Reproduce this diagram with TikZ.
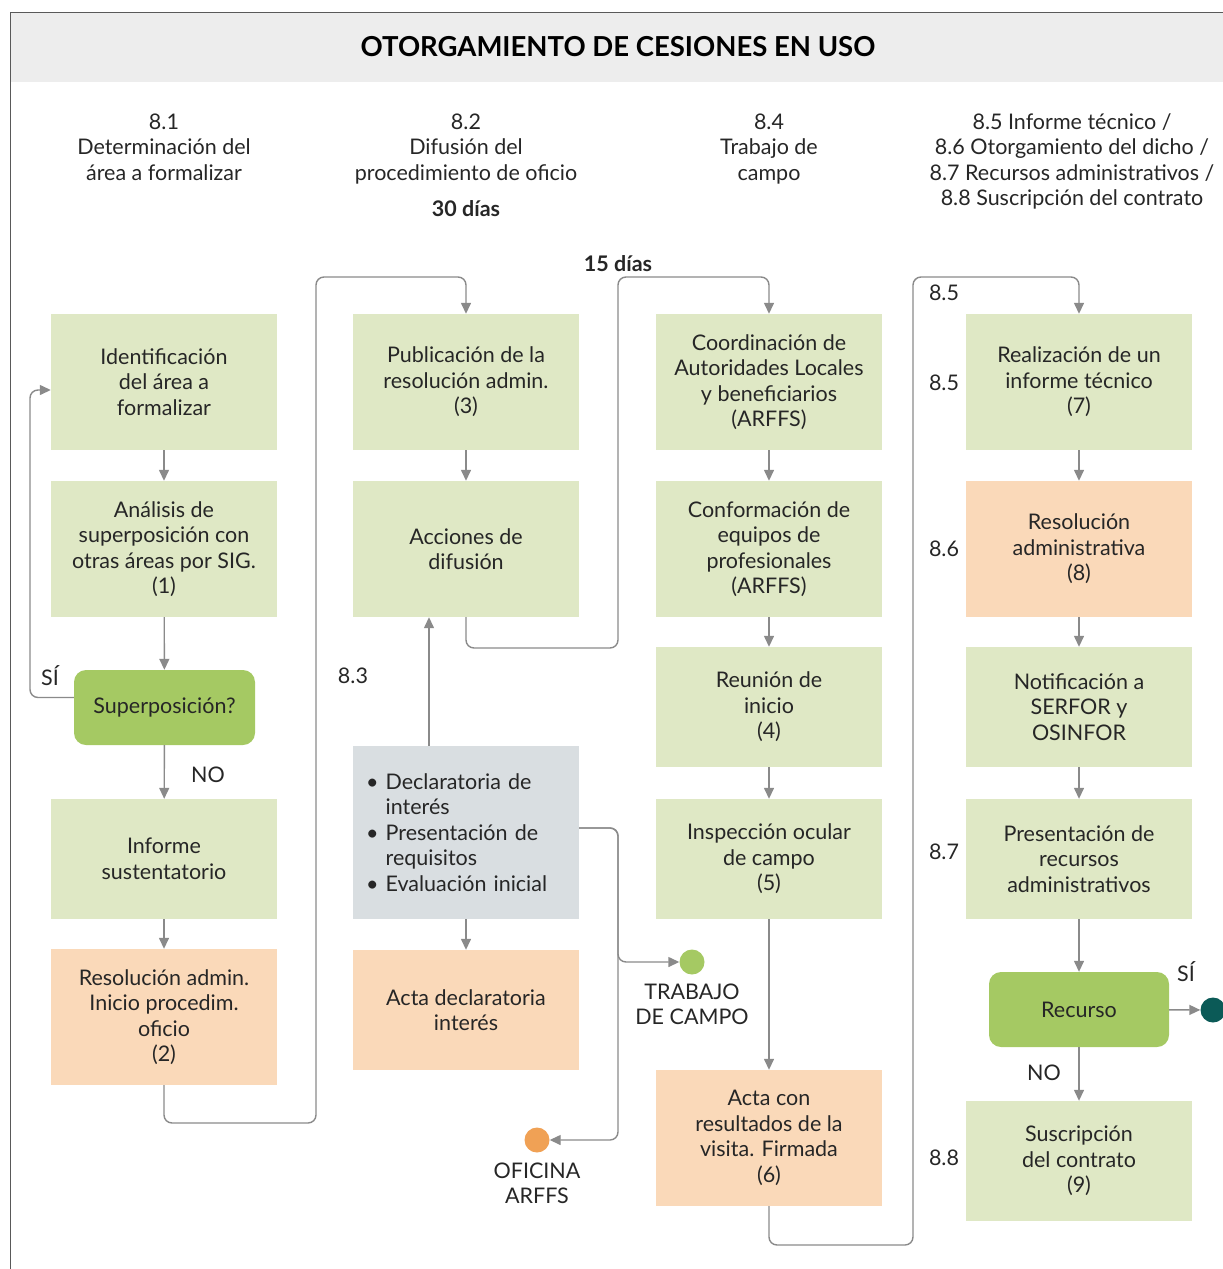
\documentclass[tikz,border=0pt]{standalone}
\usepackage{fontspec}
\setmainfont{Lato}
\usetikzlibrary{arrows.meta}
\definecolor{lgreen}{HTML}{DFE8C5}
\definecolor{lorange}{HTML}{FAD9B9}
\definecolor{dgreen}{HTML}{A5C963}
\definecolor{lgray}{HTML}{D9DEE1}
\definecolor{titlebg}{HTML}{EDEDED}
\definecolor{conncol}{HTML}{8A8A8A}
\definecolor{teal}{HTML}{0B5A57}
\definecolor{corange}{HTML}{F0A155}
\newcommand{\bodyfont}{\fontsize{21.5}{25.5}\selectfont}
\tikzset{
  box/.style={minimum width=226pt, inner sep=2pt, align=center, font=\bodyfont, text=black!85},
  gbox/.style={box, fill=lgreen},
  obox/.style={box, fill=lorange},
  decbox/.style={box, fill=dgreen, rounded corners=12pt, minimum width=181pt, minimum height=75pt},
  conn/.style={draw=conncol, line width=1.4pt, rounded corners=8pt},
  arr/.style={conn, -{Triangle[width=10pt,length=11pt]}},
  lbl/.style={font=\bodyfont, text=black!85, align=center},
  dot/.style={circle, minimum size=25pt, inner sep=0pt}
}
\begin{document}
\begin{tikzpicture}[x=1pt,y=-1pt]
\useasboundingbox (0,0) rectangle (1223,1269);
% frame and title
\fill[titlebg] (10,12) rectangle (1223,82);
\draw[black!65, line width=1pt] (10,1269) -- (10,12) -- (1223,12);
\node[font=\fontsize{27.5}{32}\selectfont\bfseries] (title) at (618,47) {OTORGAMIENTO DE CESIONES EN USO};
% column headers
\node[lbl, anchor=north] (h1) at (164,110) {8.1\\Determinación del\\área a formalizar};
\node[lbl, anchor=north] (h2) at (466,110) {8.2\\Difusión del\\procedimiento de oficio};
\node[lbl, font=\bodyfont\bfseries] (d30) at (466,209) {30 días};
\node[lbl, anchor=north] (h3) at (769,110) {8.4\\Trabajo de\\campo};
\node[lbl, anchor=north] (h4) at (1072,110) {8.5 Informe técnico /\\8.6 Otorgamiento del dicho /\\8.7 Recursos administrativos /\\8.8 Suscripción del contrato};
\node[lbl, font=\bodyfont\bfseries] (d15) at (618,264) {15 días};
% column 1
\node[gbox, minimum height=136pt] (A) at (164,382) {Identificación\\del área a\\formalizar};
\node[gbox, minimum height=136pt] (B) at (164,549) {Análisis de\\superposición con\\otras áreas por SIG.\\(1)};
\node[decbox] (dec1) at (164.5,707.5) {Superposición?};
\node[gbox, minimum height=120pt] (C) at (164,859) {Informe\\sustentatorio};
\node[obox, minimum height=136pt] (D) at (164,1017) {Resolución admin.\\Inicio procedim.\\oficio\\(2)};
% column 2
\node[gbox, minimum height=136pt] (P) at (466,382) {Publicación de la\\resolución admin.\\(3)};
\node[gbox, minimum height=136pt] (Acc) at (466,549) {Acciones de\\difusión};
\node[box, fill=lgray, minimum height=173pt, text width=200pt, align=left] (G) at (466,832.5) {\textbullet\ Declaratoria de\\\hphantom{\textbullet\ }interés\\\textbullet\ Presentación de\\\hphantom{\textbullet\ }requisitos\\\textbullet\ Evaluación inicial};
\node[obox, minimum height=120pt] (AD) at (466,1010) {Acta declaratoria\\interés};
% column 3
\node[gbox, minimum height=136pt] (Co) at (769,382) {Coordinación de\\Autoridades Locales\\y beneficiarios\\(ARFFS)};
\node[gbox, minimum height=136pt] (Cf) at (769,549) {Conformación de\\equipos de\\profesionales\\(ARFFS)};
\node[gbox, minimum height=120pt] (Re) at (769,707) {Reunión de\\inicio\\(4)};
\node[gbox, minimum height=120pt] (In) at (769,859) {Inspección ocular\\de campo\\(5)};
\node[obox, minimum height=136pt] (AR) at (769,1138) {Acta con\\resultados de la\\visita. Firmada\\(6)};
% column 4
\node[gbox, minimum height=136pt] (Rz) at (1079,382) {Realización de un\\informe técnico\\(7)};
\node[obox, minimum height=136pt] (Rs) at (1079,549) {Resolución\\administrativa\\(8)};
\node[gbox, minimum height=120pt] (No) at (1079,707) {Notificación a\\SERFOR y\\OSINFOR};
\node[gbox, minimum height=120pt] (Pr) at (1079,859) {Presentación de\\recursos\\administrativos};
\node[decbox, minimum width=180pt] (Rc) at (1079,1009.5) {Recurso};
\node[gbox, minimum height=120pt] (Su) at (1079,1161) {Suscripción\\del contrato\\(9)};
% dots
\node[dot, fill=dgreen] (TC) at (692,962) {};
\node[lbl, anchor=north] (TCl) at (692,980) {TRABAJO\\DE CAMPO};
\node[dot, fill=corange] (OF) at (537,1140) {};
\node[lbl, anchor=north] (OFl) at (537,1159) {OFICINA\\ARFFS};
\node[dot, fill=teal] (TE) at (1213,1010) {};
% side labels
\node[lbl] (l83) at (353,676) {8.3};
\node[lbl] (l85a) at (944,293) {8.5};
\node[lbl] (l85) at (944,383) {8.5};
\node[lbl] (l86) at (944,549) {8.6};
\node[lbl] (l87) at (944,852) {8.7};
\node[lbl] (l88) at (944,1158) {8.8};
\node[lbl] (si1) at (50,676) {SÍ};
\node[lbl] (no1) at (208,775) {NO};
\node[lbl] (si2) at (1186,972) {SÍ};
\node[lbl] (no2) at (1044,1073) {NO};
% connectors col1
\draw[arr] (A) -- (B);
\draw[arr] (B) -- (dec1);
\draw[arr] (dec1) -- (C);
\draw[arr] (C) -- (D);
\draw[arr] ([yshift=10pt]dec1.west) -- (30,697.5) -- (30,390) -- (A.west |- 0,390);
\draw[arr] (D.south) -- (164,1123) -- (316,1123) -- (316,277) -- (466,277) -- (P.north);
% col2
\draw[arr] (P) -- (Acc);
\draw[arr] (G.north -| 429,0) -- (Acc.south -| 429,0);
\draw[arr] (G) -- (AD);
\draw[arr] (Acc.south) -- (466,648) -- (618,648) -- (618,277) -- (769,277) -- (Co.north);
\draw[arr] (G.east |- 0,828) -- (618,828) -- (618,962) -- (TC.west);
\draw[arr] (G.east |- 0,828) -- (618,828) -- (618,1140) -- (OF.east);
% col3
\draw[arr] (Co) -- (Cf);
\draw[arr] (Cf) -- (Re);
\draw[arr] (Re) -- (In);
\draw[arr] (In) -- (AR);
\draw[arr] (AR.south) -- (769,1245) -- (913,1245) -- (913,277) -- (1079,277) -- (Rz.north);
% col4
\draw[arr] (Rz) -- (Rs);
\draw[arr] (Rs) -- (No);
\draw[arr] (No) -- (Pr);
\draw[arr] (Pr) -- (Rc);
\draw[arr] (Rc) -- (Su);
\draw[arr] (Rc) -- (TE);
\end{tikzpicture}
\end{document}
